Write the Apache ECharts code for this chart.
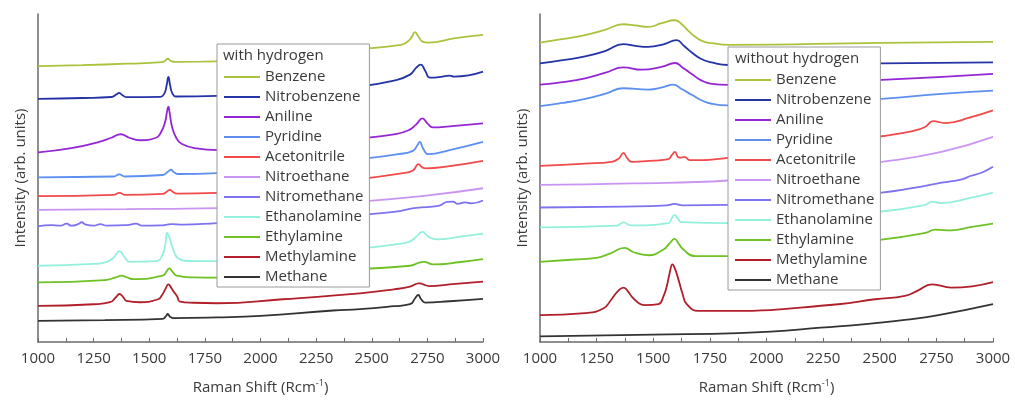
<!DOCTYPE html>
<html>
<head>
<meta charset="utf-8">
<script src="https://cdn.jsdelivr.net/npm/echarts@6/dist/echarts.min.js"></script>
<style>
  html, body { margin: 0; padding: 0; background: #fff; }
  #chart { width: 1015px; height: 400px; }
</style>
</head>
<body>
<div id="chart"></div>
<script>
// compounds, in legend order
const compounds = ['Benzene', 'Nitrobenzene', 'Aniline', 'Pyridine', 'Acetonitrile', 'Nitroethane',
    'Nitromethane', 'Ethanolamine', 'Ethylamine', 'Methylamine', 'Methane'];
const compoundColors = ['#a9c43c', '#2433a6', '#9526d6', '#5d8ff0', '#f04a4a', '#c995f2',
    '#7d72f0', '#93f0dc', '#6ec224', '#b01f2a', '#333333'];

const xTicks = [1000, 1250, 1500, 1750, 2000, 2250, 2500, 2750, 3000];

// with hydrogen: [Raman shift, offset intensity]
const withBenzene = [[1000,277.5],[1200,278.5],[1400,280],[1555,281.5],[1572,283],[1583,285],[1595,283],[1615,281.8],[1800,282.3],[2100,288],[2447,294.7],[2631,299],[2660,302],[2680,307],[2694,311.7],[2708,308],[2730,302],[2753,301.3],[2876,305.7],[3000,309]];
const withNitrobenzene = [[1000,244.7],[1200,245.5],[1330,246.5],[1352,249],[1364,250.7],[1378,248.5],[1400,246.3],[1550,246.7],[1568,250],[1578,258],[1586,266.7],[1594,258],[1604,250],[1620,247],[1805,247.7],[2100,251],[2447,257.3],[2600,263],[2672,269],[2700,276],[2720,279],[2740,273],[2762,266],[2810,266.7],[2850,268],[2870,267],[3000,272]];
const withAniline = [[1000,190.7],[1150,195],[1264,200.7],[1330,205.5],[1372,209],[1410,205.5],[1458,203],[1530,205.5],[1555,212],[1572,222],[1580,232],[1586,236.7],[1592,230],[1602,217],[1620,206],[1645,199.5],[1713,194.7],[1805,193],[2100,197],[2447,204.7],[2600,209],[2665,213],[2700,219],[2728,225],[2750,220],[2775,216],[2850,217],[3000,220]];
const withPyridine = [[1000,165.7],[1340,166.5],[1365,168.7],[1390,166.5],[1560,168],[1585,171.5],[1598,173.3],[1610,171],[1630,169],[1805,170],[2100,176],[2447,184],[2620,189],[2685,192.3],[2705,198],[2716,201.3],[2730,195],[2755,189],[2850,193],[3000,201.3]];
const withAcetonitrile = [[1000,146.7],[1340,148],[1366,150],[1392,148],[1560,149],[1580,151.5],[1593,153],[1606,151],[1625,149.3],[1805,150],[2100,156],[2447,164],[2640,170],[2685,172.5],[2710,179],[2725,176],[2744,174.7],[2850,177],[3000,182.3]];
const withNitroethane = [[1000,133],[1400,133.6],[1805,134.7],[2100,137],[2447,141.3],[2744,147.3],[3000,154.7]];
const withNitromethane = [[1000,116.3],[1060,117.5],[1100,117],[1129,119],[1150,117],[1180,118.5],[1196,120.5],[1215,118],[1250,117],[1280,118.5],[1310,117],[1400,117.5],[1440,119],[1470,117],[1550,117.3],[1600,118.5],[1650,118],[1805,119.7],[2100,123],[2447,128],[2600,131],[2700,135],[2800,137],[2840,141],[2865,141.3],[2885,139],[2920,140.5],[2950,139.5],[3000,142.3]];
const withEthanolamine = [[1000,76.7],[1250,78.5],[1309,80.7],[1340,85],[1366,91.3],[1390,85],[1413,80.7],[1533,81.3],[1560,88],[1572,98],[1581,109.7],[1592,104],[1605,95],[1631,84],[1680,81.5],[1805,81.3],[2100,86],[2447,94],[2600,98],[2672,101.3],[2705,107],[2728,110.7],[2755,106],[2791,103.3],[2900,106],[3000,109]];
const withEthylamine = [[1000,60],[1300,62.3],[1350,65],[1376,66.7],[1400,65],[1428,63.3],[1560,66.7],[1578,71],[1590,74],[1605,70.5],[1623,66.7],[1700,65],[1805,64.7],[2100,68],[2447,73.3],[2672,76.7],[2710,79.5],[2734,80.7],[2777,78],[2900,80.5],[3000,83.3]];
const withMethylamine = [[1000,36.3],[1250,38],[1324,40],[1350,45],[1366,48.3],[1382,45.5],[1398,41.3],[1458,40],[1540,43],[1556,46.7],[1572,53],[1586,58],[1600,54],[1612,50],[1625,46],[1638,40.7],[1700,39.5],[1805,39],[2100,43],[2447,49],[2600,53],[2672,55.7],[2712,59],[2760,56.3],[2850,58],[3000,60.7]];
const withMethane = [[1000,21.3],[1300,22],[1560,23.3],[1575,26],[1583,28.3],[1593,25.5],[1610,24],[1805,24.7],[2000,26.3],[2326,31.7],[2447,33],[2600,36],[2672,38],[2695,44],[2709,47.3],[2722,43],[2740,39.7],[2850,41],[3000,43.3]];

// without hydrogen
const withoutBenzene = [[1000,301.3],[1096,304.7],[1199,308.7],[1287,314],[1368,319.7],[1420,318.5],[1478,317],[1537,320.7],[1596,323.7],[1626,319.7],[1655,313],[1684,307.3],[1720,302.5],[1758,300.7],[1831,299],[2508,301],[3000,302]];
const withoutNitrobenzene = [[1000,280.3],[1100,283.5],[1199,287.3],[1290,293],[1368,299.7],[1420,298],[1478,297],[1545,299.5],[1603,303.7],[1635,298],[1670,291.3],[1710,285],[1758,281.3],[1831,278.7],[2508,280.3],[3000,281.3]];
const withoutAniline = [[1000,259],[1100,261.5],[1199,265.3],[1290,271],[1368,276.3],[1449,274],[1540,277],[1596,280.7],[1630,276],[1670,269.7],[1710,263.5],[1758,259.7],[1831,258.7],[2508,263.7],[3000,269.7]];
const withoutPyridine = [[1000,237.3],[1100,240.5],[1199,244.7],[1290,250],[1368,255.3],[1478,254],[1545,256.5],[1588,259],[1625,254.5],[1670,248.7],[1710,243.5],[1758,239.7],[1831,238],[2508,244.7],[2773,249.7],[3000,253]];
const withoutAcetonitrile = [[1000,177.3],[1200,179.5],[1316,181.3],[1350,185],[1368,190.3],[1385,185],[1405,181.3],[1500,182.5],[1567,184],[1582,188],[1596,191.3],[1610,186],[1622,185.5],[1637,186.3],[1662,183],[1831,185.3],[2508,207],[2650,212.5],[2700,216.3],[2736,222.3],[2788,220.3],[2900,226],[3000,233]];
const withoutNitroethane = [[1000,158],[1400,159.5],[1831,162.5],[2508,181.3],[2773,191.3],[3000,206.3]];
const withoutNitromethane = [[1000,135.3],[1368,136.3],[1560,137.5],[1594,139],[1630,137.5],[1831,138],[2508,150.3],[2650,155],[2773,160.3],[2862,163.7],[2900,167],[2949,170.3],[3000,176.3]];
const withoutEthanolamine = [[1000,115.3],[1340,117],[1368,120.3],[1400,117.3],[1567,119.7],[1582,124.5],[1594,128],[1608,124],[1626,120.7],[1831,119.7],[2508,131.3],[2700,138],[2730,141.3],[2773,139.7],[2900,145],[3000,150.3]];
const withoutEthylamine = [[1000,80.7],[1150,83],[1250,84.7],[1309,89],[1373,94.7],[1413,90.3],[1479,87.3],[1545,93],[1575,100],[1594,103.7],[1612,99],[1633,93],[1685,86.3],[1831,86.3],[2508,103],[2700,109.7],[2744,113],[2817,112.3],[2900,115.5],[3000,119]];
const withoutMethylamine = [[1000,27],[1199,29],[1279,33.7],[1316,43],[1345,51.5],[1369,54.7],[1390,50.5],[1405,45.7],[1440,38.5],[1465,37],[1523,38],[1545,46],[1560,56.3],[1573,70],[1585,78],[1597,73],[1611,63],[1630,48],[1648,38],[1700,31.3],[1831,31.3],[2317,38],[2479,43],[2611,46.3],[2670,52],[2730,58],[2817,54.7],[3000,60.3]];
const withoutMethane = [[1000,5.7],[1500,7.5],[1876,9],[2317,15.7],[2479,19],[2611,22.3],[2759,27],[3000,38]];

const withH = [withBenzene, withNitrobenzene, withAniline, withPyridine, withAcetonitrile, withNitroethane,
    withNitromethane, withEthanolamine, withEthylamine, withMethylamine, withMethane];
const withoutH = [withoutBenzene, withoutNitrobenzene, withoutAniline, withoutPyridine, withoutAcetonitrile, withoutNitroethane,
    withoutNitromethane, withoutEthanolamine, withoutEthylamine, withoutMethylamine, withoutMethane];

const FONT = '"Open Sans", sans-serif';
const TEXT = '#3a3a3a';
const AXIS = '#6a6a6a';

function makeX(gridIndex) {
    return {
        type: 'value', gridIndex: gridIndex, min: 1000, max: 3000, interval: 250,
        name: 'Raman Shift (Rcm{sup|-1})', nameLocation: 'middle', nameGap: 37,
        nameTextStyle: {
            fontFamily: FONT, fontSize: 15, color: TEXT,
            rich: { sup: { fontFamily: FONT, fontSize: 9, color: TEXT, verticalAlign: 'top', padding: [0, 0, 8, 0] } }
        },
        axisLine: { show: true, onZero: false, lineStyle: { color: AXIS, width: 1.5 } },
        axisTick: { show: true, inside: true, length: 4, lineStyle: { color: AXIS } },
        minorTick: { show: true, splitNumber: 2, length: 4, lineStyle: { color: AXIS } },
        axisLabel: { fontFamily: FONT, fontSize: 15, color: TEXT, margin: 9,
            formatter: v => xTicks.includes(v) ? String(v) : '' },
        splitLine: { show: false }
    };
}

function makeY(gridIndex) {
    return {
        type: 'value', gridIndex: gridIndex, min: 0, max: 330,
        name: 'Intensity (arb. units)', nameLocation: 'middle', nameGap: 10,
        nameTextStyle: { fontFamily: FONT, fontSize: 15, color: TEXT },
        axisLine: { show: true, lineStyle: { color: AXIS, width: 1.5 } },
        axisTick: { show: false },
        axisLabel: { show: false },
        splitLine: { show: false }
    };
}

function makeLegend(left, top) {
    return {
        orient: 'vertical', left: left, top: top,
        data: compounds,
        icon: 'rect', itemWidth: 36, itemHeight: 2, itemGap: 0,
        padding: [23, 6, 0, 7],
        backgroundColor: '#fff', borderColor: '#9a9a9a', borderWidth: 1,
        textStyle: { fontFamily: FONT, fontSize: 15, color: TEXT, lineHeight: 20, padding: [0, 0, 0, 0] },
        selectedMode: false
    };
}

let series = [];
[withH, withoutH].forEach((set, gi) => {
    set.forEach((pts, i) => {
        series.push({
            name: compounds[i], type: 'line', xAxisIndex: gi, yAxisIndex: gi,
            data: pts, showSymbol: false, smooth: 0.5,
            lineStyle: { color: compoundColors[i], width: 1.8 },
            itemStyle: { color: compoundColors[i] },
            z: 2
        });
    });
});

let option = {
    animation: false,
    backgroundColor: '#fff',
    title: [
        { text: 'with hydrogen', left: 223, top: 48, padding: 0, z: 10,
          textStyle: { fontFamily: FONT, fontSize: 15, fontWeight: 'normal', color: TEXT } },
        { text: 'without hydrogen', left: 735, top: 51, padding: 0, z: 10,
          textStyle: { fontFamily: FONT, fontSize: 15, fontWeight: 'normal', color: TEXT } }
    ],
    grid: [
        { left: 38, top: 14, width: 445, height: 330 },
        { left: 540, top: 14, width: 453, height: 329 }
    ],
    xAxis: [makeX(0), makeX(1)],
    yAxis: [makeY(0), makeY(1)],
    legend: [makeLegend(217, 44), makeLegend(728, 47)],
    series: series
};

let chart = echarts.init(document.getElementById('chart'));
chart.setOption(option);
</script>
</body>
</html>
